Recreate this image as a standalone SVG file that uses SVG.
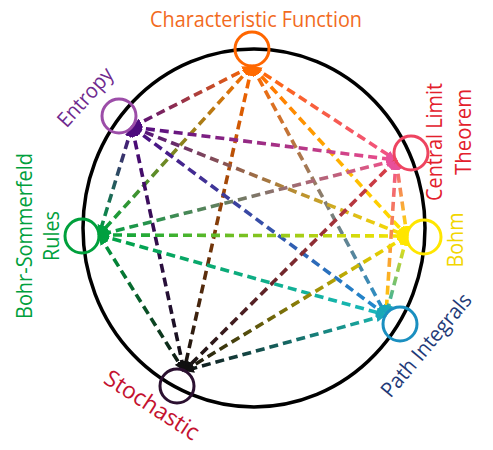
<svg xmlns="http://www.w3.org/2000/svg" width="493" height="450" viewBox="0 0 493 450">
<style>
.lbl{font-family:"Open Sans","Noto Sans","DejaVu Sans",sans-serif;font-size:21px;text-anchor:middle}
.e{fill:none;stroke-width:3.6;stroke-dasharray:9 5}
.n{fill:none;stroke-width:3}
</style>
<defs>
<marker id="m-cf" viewBox="0 0 10 9" refX="10" refY="4.5" markerUnits="userSpaceOnUse" markerWidth="10" markerHeight="9" orient="auto-start-reverse"><path d="M0,0L10,4.5L0,9z" fill="#FF6A00"/></marker>
<marker id="m-en" viewBox="0 0 10 9" refX="10" refY="4.5" markerUnits="userSpaceOnUse" markerWidth="10" markerHeight="9" orient="auto-start-reverse"><path d="M0,0L10,4.5L0,9z" fill="#4E0B7E"/></marker>
<marker id="m-clt" viewBox="0 0 10 9" refX="10" refY="4.5" markerUnits="userSpaceOnUse" markerWidth="10" markerHeight="9" orient="auto-start-reverse"><path d="M0,0L10,4.5L0,9z" fill="#E8509A"/></marker>
<marker id="m-bs" viewBox="0 0 10 9" refX="10" refY="4.5" markerUnits="userSpaceOnUse" markerWidth="10" markerHeight="9" orient="auto-start-reverse"><path d="M0,0L10,4.5L0,9z" fill="#00A040"/></marker>
<marker id="m-bm" viewBox="0 0 10 9" refX="10" refY="4.5" markerUnits="userSpaceOnUse" markerWidth="10" markerHeight="9" orient="auto-start-reverse"><path d="M0,0L10,4.5L0,9z" fill="#FFE600"/></marker>
<marker id="m-pi" viewBox="0 0 10 9" refX="10" refY="4.5" markerUnits="userSpaceOnUse" markerWidth="10" markerHeight="9" orient="auto-start-reverse"><path d="M0,0L10,4.5L0,9z" fill="#1AA8B8"/></marker>
<marker id="m-st" viewBox="0 0 10 9" refX="10" refY="4.5" markerUnits="userSpaceOnUse" markerWidth="10" markerHeight="9" orient="auto-start-reverse"><path d="M0,0L10,4.5L0,9z" fill="#111111"/></marker>
<linearGradient id="g1" gradientUnits="userSpaceOnUse" x1="252" y1="66" x2="132" y2="127"><stop offset="0" stop-color="#FF6A00"/><stop offset="1" stop-color="#4E0B7E"/></linearGradient>
<linearGradient id="g2" gradientUnits="userSpaceOnUse" x1="252" y1="66" x2="396" y2="160"><stop offset="0" stop-color="#FF6A00"/><stop offset="1" stop-color="#F0508C"/></linearGradient>
<linearGradient id="g3" gradientUnits="userSpaceOnUse" x1="252" y1="66" x2="99" y2="235"><stop offset="0" stop-color="#FF6A00"/><stop offset="1" stop-color="#00A040"/></linearGradient>
<linearGradient id="g4" gradientUnits="userSpaceOnUse" x1="252" y1="66" x2="407" y2="236"><stop offset="0" stop-color="#FF6A00"/><stop offset="1" stop-color="#FFE600"/></linearGradient>
<linearGradient id="g5" gradientUnits="userSpaceOnUse" x1="252" y1="66" x2="386" y2="315"><stop offset="0" stop-color="#FF6A00"/><stop offset="1" stop-color="#1F8FD0"/></linearGradient>
<linearGradient id="g6" gradientUnits="userSpaceOnUse" x1="252" y1="66" x2="184" y2="371"><stop offset="0" stop-color="#FF6A00"/><stop offset="1" stop-color="#111111"/></linearGradient>
<linearGradient id="g7" gradientUnits="userSpaceOnUse" x1="132" y1="127" x2="396" y2="160"><stop offset="0" stop-color="#4E0B7E"/><stop offset="1" stop-color="#F0508C"/></linearGradient>
<linearGradient id="g8" gradientUnits="userSpaceOnUse" x1="132" y1="127" x2="99" y2="235"><stop offset="0" stop-color="#4E0B7E"/><stop offset="1" stop-color="#00A040"/></linearGradient>
<linearGradient id="g9" gradientUnits="userSpaceOnUse" x1="132" y1="127" x2="407" y2="236"><stop offset="0" stop-color="#4E0B7E"/><stop offset="1" stop-color="#FFE600"/></linearGradient>
<linearGradient id="g10" gradientUnits="userSpaceOnUse" x1="132" y1="127" x2="386" y2="315"><stop offset="0" stop-color="#4E0B7E"/><stop offset="1" stop-color="#1F8FD0"/></linearGradient>
<linearGradient id="g11" gradientUnits="userSpaceOnUse" x1="132" y1="127" x2="184" y2="371"><stop offset="0" stop-color="#4E0B7E"/><stop offset="1" stop-color="#111111"/></linearGradient>
<linearGradient id="g12" gradientUnits="userSpaceOnUse" x1="396" y1="160" x2="99" y2="235"><stop offset="0" stop-color="#F0508C"/><stop offset="1" stop-color="#00A040"/></linearGradient>
<linearGradient id="g13" gradientUnits="userSpaceOnUse" x1="396" y1="160" x2="407" y2="236"><stop offset="0" stop-color="#F0508C"/><stop offset="1" stop-color="#FFE600"/></linearGradient>
<linearGradient id="g14" gradientUnits="userSpaceOnUse" x1="396" y1="160" x2="386" y2="315"><stop offset="0" stop-color="#F0508C"/><stop offset="1" stop-color="#FFD000"/></linearGradient>
<linearGradient id="g15" gradientUnits="userSpaceOnUse" x1="396" y1="160" x2="184" y2="371"><stop offset="0" stop-color="#E0404A"/><stop offset="1" stop-color="#111111"/></linearGradient>
<linearGradient id="g16" gradientUnits="userSpaceOnUse" x1="99" y1="235" x2="407" y2="236"><stop offset="0" stop-color="#00A040"/><stop offset="1" stop-color="#FFE600"/></linearGradient>
<linearGradient id="g17" gradientUnits="userSpaceOnUse" x1="99" y1="235" x2="386" y2="315"><stop offset="0" stop-color="#00A040"/><stop offset="1" stop-color="#1AB8C0"/></linearGradient>
<linearGradient id="g18" gradientUnits="userSpaceOnUse" x1="99" y1="235" x2="184" y2="371"><stop offset="0" stop-color="#00A040"/><stop offset="1" stop-color="#111111"/></linearGradient>
<linearGradient id="g19" gradientUnits="userSpaceOnUse" x1="407" y1="236" x2="386" y2="315"><stop offset="0" stop-color="#FFE600"/><stop offset="1" stop-color="#1AA8B8"/></linearGradient>
<linearGradient id="g20" gradientUnits="userSpaceOnUse" x1="407" y1="236" x2="184" y2="371"><stop offset="0" stop-color="#FFE600"/><stop offset="1" stop-color="#111111"/></linearGradient>
<linearGradient id="g21" gradientUnits="userSpaceOnUse" x1="386" y1="315" x2="184" y2="371"><stop offset="0" stop-color="#1AB8B0"/><stop offset="1" stop-color="#111111"/></linearGradient>
</defs>
<rect width="493" height="450" fill="#ffffff"/>
<ellipse id="outline" cx="254" cy="228" rx="171" ry="179" fill="none" stroke="#000" stroke-width="3.5"/>
<g id="connectors">
<line class="e" stroke="url(#g1)" x1="252" y1="66" x2="132" y2="127" marker-start="url(#m-cf)" marker-end="url(#m-en)"/>
<line class="e" stroke="url(#g2)" x1="252" y1="66" x2="396" y2="160" marker-start="url(#m-cf)" marker-end="url(#m-clt)"/>
<line class="e" stroke="url(#g3)" x1="252" y1="66" x2="99" y2="235" marker-start="url(#m-cf)" marker-end="url(#m-bs)"/>
<line class="e" stroke="url(#g4)" x1="252" y1="66" x2="407" y2="236" marker-start="url(#m-cf)" marker-end="url(#m-bm)"/>
<line class="e" stroke="url(#g5)" x1="252" y1="66" x2="386" y2="315" marker-start="url(#m-cf)" marker-end="url(#m-pi)"/>
<line class="e" stroke="url(#g6)" x1="252" y1="66" x2="184" y2="371" marker-start="url(#m-cf)" marker-end="url(#m-st)"/>
<line class="e" stroke="url(#g7)" x1="132" y1="127" x2="396" y2="160" marker-start="url(#m-en)" marker-end="url(#m-clt)"/>
<line class="e" stroke="url(#g8)" x1="132" y1="127" x2="99" y2="235" marker-start="url(#m-en)" marker-end="url(#m-bs)"/>
<line class="e" stroke="url(#g9)" x1="132" y1="127" x2="407" y2="236" marker-start="url(#m-en)" marker-end="url(#m-bm)"/>
<line class="e" stroke="url(#g10)" x1="132" y1="127" x2="386" y2="315" marker-start="url(#m-en)" marker-end="url(#m-pi)"/>
<line class="e" stroke="url(#g11)" x1="132" y1="127" x2="184" y2="371" marker-start="url(#m-en)" marker-end="url(#m-st)"/>
<line class="e" stroke="url(#g12)" x1="396" y1="160" x2="99" y2="235" marker-start="url(#m-clt)" marker-end="url(#m-bs)"/>
<line class="e" stroke="url(#g13)" x1="396" y1="160" x2="407" y2="236" marker-start="url(#m-clt)" marker-end="url(#m-bm)"/>
<line class="e" stroke="url(#g14)" x1="396" y1="160" x2="386" y2="315" marker-start="url(#m-clt)" marker-end="url(#m-pi)"/>
<line class="e" stroke="url(#g15)" x1="396" y1="160" x2="184" y2="371" marker-start="url(#m-clt)" marker-end="url(#m-st)"/>
<line class="e" stroke="url(#g16)" x1="99" y1="235" x2="407" y2="236" marker-start="url(#m-bs)" marker-end="url(#m-bm)"/>
<line class="e" stroke="url(#g17)" x1="99" y1="235" x2="386" y2="315" marker-start="url(#m-bs)" marker-end="url(#m-pi)"/>
<line class="e" stroke="url(#g18)" x1="99" y1="235" x2="184" y2="371" marker-start="url(#m-bs)" marker-end="url(#m-st)"/>
<line class="e" stroke="url(#g19)" x1="407" y1="236" x2="386" y2="315" marker-start="url(#m-bm)" marker-end="url(#m-pi)"/>
<line class="e" stroke="url(#g20)" x1="407" y1="236" x2="184" y2="371" marker-start="url(#m-bm)" marker-end="url(#m-st)"/>
<line class="e" stroke="url(#g21)" x1="386" y1="315" x2="184" y2="371" marker-start="url(#m-pi)" marker-end="url(#m-st)"/>
</g>
<g id="node-characteristic-function">
<circle class="n" cx="252" cy="49" r="17" stroke="#FF6600"/>
<text class="lbl" x="256" y="27" fill="#F26B1D" textLength="212" lengthAdjust="spacingAndGlyphs">Characteristic Function</text>
</g>
<g id="node-entropy">
<circle class="n" cx="119" cy="116" r="17" stroke="#9C4DA8"/>
<text class="lbl" transform="translate(85,97) rotate(-48)" x="0" y="7.5" fill="#6F2A8F" textLength="72" lengthAdjust="spacingAndGlyphs">Entropy</text>
</g>
<g id="node-central-limit-theorem">
<circle class="n" cx="411" cy="153" r="17" stroke="#EE4460"/>
<text class="lbl" transform="translate(434,142) rotate(-90)" x="0" y="7.5" fill="#E3202C" textLength="118" lengthAdjust="spacingAndGlyphs">Central Limit</text>
<text class="lbl" transform="translate(463,132) rotate(-90)" x="0" y="7.5" fill="#E3202C" textLength="86" lengthAdjust="spacingAndGlyphs">Theorem</text>
</g>
<g id="node-bohr-sommerfeld">
<circle class="n" cx="82" cy="236" r="17" stroke="#00A03C"/>
<text class="lbl" transform="translate(24,236) rotate(-90)" x="0" y="7.5" fill="#00A03C" textLength="166" lengthAdjust="spacingAndGlyphs">Bohr-Sommerfeld</text>
<text class="lbl" transform="translate(51,236) rotate(-90)" x="0" y="7.5" fill="#00A03C" textLength="50" lengthAdjust="spacingAndGlyphs">Rules</text>
</g>
<g id="node-bohm">
<circle class="n" cx="424" cy="237" r="17" stroke="#FFE600"/>
<text class="lbl" transform="translate(455,240) rotate(-90)" x="0" y="7.5" fill="#F2D600" textLength="55" lengthAdjust="spacingAndGlyphs">Bohm</text>
</g>
<g id="node-path-integrals">
<circle class="n" cx="400" cy="324" r="17" stroke="#1A8FC0"/>
<text class="lbl" transform="translate(426,345) rotate(-50)" x="0" y="7.5" fill="#1F3A78" textLength="128" lengthAdjust="spacingAndGlyphs">Path Integrals</text>
</g>
<g id="node-stochastic">
<circle class="n" cx="177" cy="386" r="17" stroke="#2B1030"/>
<text class="lbl" transform="translate(152,405) rotate(33)" x="0" y="8" fill="#C4122F" style="font-size:23px" textLength="108" lengthAdjust="spacingAndGlyphs">Stochastic</text>
</g>
</svg>
